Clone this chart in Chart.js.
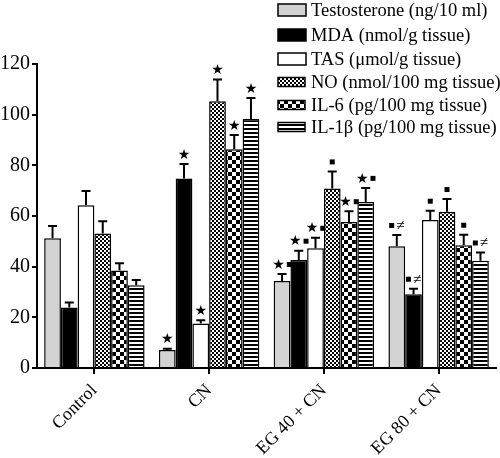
<!DOCTYPE html>
<html>
<head>
<meta charset="utf-8">
<script src="https://cdn.jsdelivr.net/npm/chart.js@4/dist/chart.umd.min.js"></script>
<style>
  html, body { margin: 0; padding: 0; background: #fff; }
  #wrap { width: 500px; height: 458px; position: relative; }
</style>
</head>
<body>
<div id="wrap"><canvas id="chart" width="500" height="458"></canvas></div>
<script>
// groups on the x axis
const categories = ["Control", "CN", "EG 40 + CN", "EG 80 + CN"];

// bar heights, one array per measurement
const testosterone = [51.2, 7.1, 34.3, 48.1];
const mda = [23.9, 74.8, 42.6, 29.1];
const tas = [64.2, 17.6, 47.3, 58.4];
const no = [53.1, 105.3, 70.9, 61.7];
const il6 = [38.5, 86.3, 57.6, 48.5];
const il1b = [32.7, 98.3, 65.5, 42.3];

// upper error (SEM)
const testosteroneErr = [4.9, 0.5, 2.8, 4.4];
const mdaErr = [2.0, 5.7, 3.7, 2.2];
const tasErr = [5.7, 1.2, 4.1, 3.7];
const noErr = [4.8, 8.6, 6.7, 5.0];
const il6Err = [2.8, 5.7, 4.3, 4.1];
const il1bErr = [2.0, 8.3, 5.6, 3.3];

// significance marks above each bar
const testosteroneMarks = ["", "★", "★■", "■≠"];
const mdaMarks = ["", "★", "★■", "■≠"];
const tasMarks = ["", "★", "★■", "■"];
const noMarks = ["", "★", "■", "■"];
const il6Marks = ["", "★", "★■", "■"];
const il1bMarks = ["", "★", "★■", "■≠"];

const seriesLabels = [
    "Testosterone (ng/10 ml)",
    "MDA (nmol/g tissue)",
    "TAS (\u03bcmol/g tissue)",
    "NO (nmol/100 mg tissue)",
    "IL-6 (pg/100 mg tissue)",
    "IL-1\u03b2 (pg/100 mg tissue)",
];

const yTicks = [0, 20, 40, 60, 80, 100, 120];

const SERIF = "'Liberation Serif', 'Times New Roman', serif";

let ctx = document.getElementById("chart").getContext("2d");

function makePattern(size, drawTile) {
    let c = document.createElement("canvas");
    c.width = size[0];
    c.height = size[1];
    let g = c.getContext("2d");
    g.fillStyle = "#fff";
    g.fillRect(0, 0, c.width, c.height);
    g.fillStyle = "#000";
    drawTile(g);
    return ctx.createPattern(c, "repeat");
}

// fine checker (NO)
let fineChecker = makePattern([4, 4], function (g) {
    g.fillRect(0, 0, 2, 2);
    g.fillRect(2, 2, 2, 2);
});
// coarse checker (IL-6)
let coarseChecker = makePattern([8, 8], function (g) {
    g.fillRect(0, 0, 4, 4);
    g.fillRect(4, 4, 4, 4);
});
// horizontal stripes (IL-1b)
let stripes = makePattern([4, 4], function (g) {
    g.fillRect(0, 0, 4, 2);
});

let fills = ["#d3d3d3", "#000000", "#ffffff", fineChecker, coarseChecker, stripes];
let values = [testosterone, mda, tas, no, il6, il1b];
let errors = [testosteroneErr, mdaErr, tasErr, noErr, il6Err, il1bErr];
let marks = [testosteroneMarks, mdaMarks, tasMarks, noMarks, il6Marks, il1bMarks];

let datasets = [];
for (let i = 0; i < values.length; i++) {
    datasets.push({
        label: seriesLabels[i],
        data: values[i],
        backgroundColor: fills[i],
        borderColor: "#000",
        borderWidth: 1.5,
        borderSkipped: "bottom",
        barPercentage: 1.0,
        categoryPercentage: 0.875,
    });
}

function drawMark(g, text, cx, cy) {
    // measure pieces first so the group is centred over the bar
    let parts = [];
    let total = 0;
    for (let ch of text) {
        let w;
        if (ch === "■") w = 5;
        else if (ch === "★") {
            g.font = "14px 'DejaVu Sans'";
            w = g.measureText(ch).width;
        } else {
            g.font = "15px " + SERIF;
            w = g.measureText(ch).width;
        }
        parts.push([ch, w]);
        total += w;
    }
    total += (parts.length - 1) * 2;
    let x = cx - total / 2;
    g.fillStyle = "#000";
    g.textBaseline = "middle";
    g.textAlign = "left";
    for (let [ch, w] of parts) {
        if (ch === "■") {
            g.fillRect(x, cy - 3, 5, 5);
        } else if (ch === "★") {
            g.font = "14px 'DejaVu Sans'";
            g.fillText(ch, x, cy);
        } else {
            g.font = "15px " + SERIF;
            g.fillText(ch, x, cy);
        }
        x += w + 2;
    }
}

let errorBarsPlugin = {
    id: "errorBars",
    afterDatasetsDraw(chart) {
        let g = chart.ctx;
        let y = chart.scales.y;
        g.save();
        chart.data.datasets.forEach(function (ds, i) {
            let meta = chart.getDatasetMeta(i);
            meta.data.forEach(function (bar, j) {
                let top = y.getPixelForValue(values[i][j]);
                let cap = y.getPixelForValue(values[i][j] + errors[i][j]);
                g.strokeStyle = "#000";
                g.lineWidth = 2;
                g.beginPath();
                g.moveTo(bar.x, top);
                g.lineTo(bar.x, cap);
                g.moveTo(bar.x - 4.5, cap);
                g.lineTo(bar.x + 4.5, cap);
                g.stroke();
                if (marks[i][j]) {
                    drawMark(g, marks[i][j], bar.x, cap - 9);
                }
            });
        });
        g.restore();
    },
};

let legendPlugin = {
    id: "patternLegend",
    afterDraw(chart) {
        let g = chart.ctx;
        let rows = [10, 35, 59, 82, 105, 127];
        g.save();
        chart.data.datasets.forEach(function (ds, i) {
            let h = i < 3 ? 12 : 9;
            let w = i < 3 ? 28 : 27;
            let bx = 278;
            let by = rows[i] - h / 2;
            g.fillStyle = ds.backgroundColor;
            g.fillRect(bx, by, w, h);
            g.strokeStyle = "#000";
            g.lineWidth = 1.5;
            g.strokeRect(bx, by, w, h);
            g.fillStyle = "#000";
            g.font = "18.5px " + SERIF;
            g.textAlign = "left";
            g.textBaseline = "middle";
            g.fillText(ds.label, 311, rows[i] + 1);
        });
        g.restore();
    },
};

let myChart = new Chart(ctx, {
    type: "bar",
    data: {
        labels: categories,
        datasets: datasets,
    },
    options: {
        responsive: false,
        animation: false,
        layout: {
            padding: { top: 64, right: 4, left: 0, bottom: 0 },
        },
        plugins: {
            legend: { display: false },
            tooltip: { enabled: false },
        },
        scales: {
            x: {
                grid: {
                    display: true,
                    offset: false,
                    drawOnChartArea: false,
                    drawTicks: true,
                    tickLength: 6,
                    color: "#000",
                    lineWidth: 2,
                },
                border: { color: "#000", width: 2 },
                ticks: {
                    color: "#000",
                    font: { family: SERIF, size: 18 },
                    minRotation: 45,
                    maxRotation: 45,
                    padding: 6,
                },
                afterFit: function (scale) {
                    scale.height = 90;
                },
            },
            y: {
                min: 0,
                max: 120,
                afterBuildTicks: function (scale) {
                    scale.ticks = yTicks.map(function (v) {
                        return { value: v };
                    });
                },
                grid: {
                    display: true,
                    drawOnChartArea: false,
                    drawTicks: true,
                    tickLength: 5,
                    color: "#000",
                    lineWidth: 2,
                },
                border: { color: "#000", width: 2 },
                ticks: {
                    color: "#000",
                    font: { family: SERIF, size: 20 },
                    padding: 2,
                },
                afterFit: function (scale) {
                    scale.width = 37;
                },
            },
        },
    },
    plugins: [errorBarsPlugin, legendPlugin],
});
</script>
</body>
</html>
